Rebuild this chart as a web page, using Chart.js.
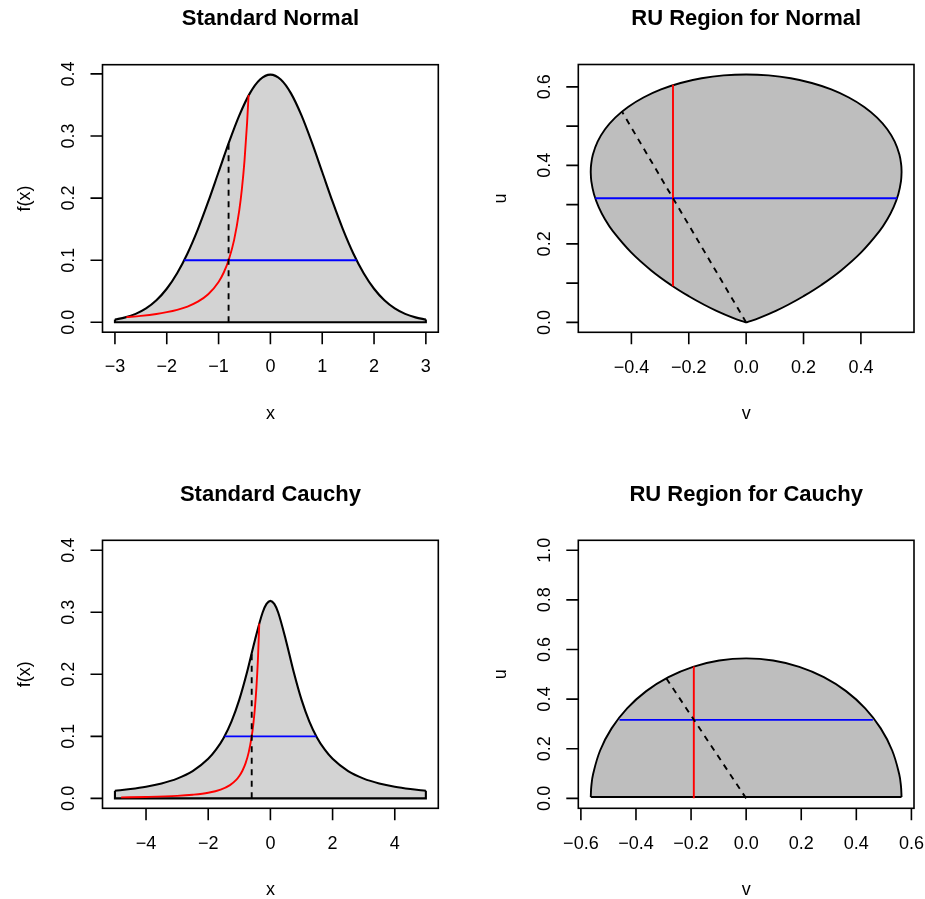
<!DOCTYPE html>
<html lang="en">
<head>
<meta charset="UTF-8">
<title>Ratio-of-uniforms regions</title>
<script src="https://cdn.jsdelivr.net/npm/chart.js"></script>
<style>
  html, body { margin: 0; padding: 0; background: #fff; }
  body { width: 925px; height: 899px; position: relative; overflow: hidden; }
  .panel { position: absolute; }
  .panel canvas { display: block; }
</style>
</head>
<body>
<div class="panel" style="left:0;top:0"><canvas id="normPdf" width="462" height="450"></canvas></div>
<div class="panel" style="left:462px;top:0"><canvas id="normRu" width="463" height="450"></canvas></div>
<div class="panel" style="left:0;top:450px"><canvas id="cauchyPdf" width="462" height="449"></canvas></div>
<div class="panel" style="left:462px;top:450px"><canvas id="cauchyRu" width="463" height="449"></canvas></div>

<script>
// --- standard normal density
const normX = [-3, -2.8, -2.6, -2.4, -2.2, -2, -1.8, -1.6, -1.4, -1.2, -1, -0.8, -0.6, -0.4, -0.2, 0,
  0.2, 0.4, 0.6, 0.8, 1, 1.2, 1.4, 1.6, 1.8, 2, 2.2, 2.4, 2.6, 2.8, 3];
const normY = [0.0044, 0.0079, 0.0136, 0.0224, 0.0355, 0.0540, 0.0790, 0.1109, 0.1497, 0.1942, 0.2420, 0.2897, 0.3332, 0.3683, 0.3910, 0.3989,
  0.3910, 0.3683, 0.3332, 0.2897, 0.2420, 0.1942, 0.1497, 0.1109, 0.0790, 0.0540, 0.0355, 0.0224, 0.0136, 0.0079, 0.0044];
const normBaseX = [-3, -3, 3, 3];
const normBaseY = [0.0044, 0, 0, 0.0044];
const normRedX = [-2.78, -2.5, -2.2, -2, -1.8, -1.6, -1.4, -1.2, -1, -0.9, -0.8, -0.7, -0.6, -0.55, -0.5, -0.45, -0.421];
const normRedY = [0.0084, 0.0104, 0.0134, 0.0163, 0.0201, 0.0254, 0.0332, 0.0451, 0.065, 0.0802, 0.1016, 0.1327, 0.1806, 0.2149, 0.26, 0.321, 0.366];
const normBlueX = [-1.664, 1.664];
const normBlueY = [0.1, 0.1];
const normCutX = [-0.807, -0.807];
const normCutY = [0, 0.288];

// --- RU region for the normal (top-right panel), upper and lower edge
const ruNormTopV = [-0.5418, -0.5406, -0.5342, -0.5178, -0.4919, -0.4564, -0.4116, -0.3580, -0.2967, -0.2287, -0.1554, -0.0786, 0,
  0.0786, 0.1554, 0.2287, 0.2967, 0.3580, 0.4116, 0.4564, 0.4919, 0.5178, 0.5342, 0.5406, 0.5418];
const ruNormTopU = [0.3831, 0.4005, 0.4274, 0.4603, 0.4919, 0.5216, 0.5487, 0.5728, 0.5934, 0.6098, 0.6218, 0.6291, 0.6316,
  0.6291, 0.6218, 0.6098, 0.5934, 0.5728, 0.5487, 0.5216, 0.4919, 0.4603, 0.4274, 0.4005, 0.3831];
const ruNormBotV = [-0.5418, -0.5398, -0.5304, -0.5140, -0.4917, -0.4647, -0.4009, -0.3310, -0.2622, -0.1997, -0.1464, -0.1034, -0.0463, -0.0061, 0,
  0.0061, 0.0463, 0.1034, 0.1464, 0.1997, 0.2622, 0.3310, 0.4009, 0.4647, 0.4917, 0.5140, 0.5304, 0.5398, 0.5418];
const ruNormBotU = [0.3831, 0.3599, 0.3264, 0.2937, 0.2623, 0.2323, 0.1782, 0.1324, 0.0954, 0.0666, 0.0450, 0.0295, 0.0116, 0.0012, 0,
  0.0012, 0.0116, 0.0295, 0.0450, 0.0666, 0.0954, 0.1324, 0.1782, 0.2323, 0.2623, 0.2937, 0.3264, 0.3599, 0.3831];
const ruNormRedV = [-0.255, -0.255];
const ruNormRedU = [0.092, 0.605];
const ruNormBlueV = [-0.526, 0.526];
const ruNormBlueU = [0.3162, 0.3162];
const ruNormCutV = [0, -0.433];
const ruNormCutU = [0, 0.537];

// --- standard Cauchy density (bottom-left panel)
const cauchyX = [-5, -4.5, -4, -3.5, -3, -2.5, -2, -1.75, -1.5, -1.25, -1, -0.75, -0.5, -0.25, -0.125, 0,
  0.125, 0.25, 0.5, 0.75, 1, 1.25, 1.5, 1.75, 2, 2.5, 3, 3.5, 4, 4.5, 5];
const cauchyY = [0.0122, 0.0150, 0.0187, 0.0240, 0.0318, 0.0439, 0.0637, 0.0784, 0.0979, 0.1242, 0.1592, 0.2037, 0.2546, 0.2996, 0.3134, 0.3183,
  0.3134, 0.2996, 0.2546, 0.2037, 0.1592, 0.1242, 0.0979, 0.0784, 0.0637, 0.0439, 0.0318, 0.0240, 0.0187, 0.0150, 0.0122];
const cauchyBaseX = [-5, -5, 5, 5];
const cauchyBaseY = [0.0122, 0, 0, 0.0122];
const cauchyRedX = [-4.8, -4, -3, -2.5, -2, -1.6, -1.3, -1.1, -1, -0.9, -0.8, -0.7, -0.6, -0.55, -0.5, -0.45, -0.4, -0.358];
const cauchyRedY = [0.0016, 0.0023, 0.0040, 0.0058, 0.0090, 0.0141, 0.0214, 0.0298, 0.0361, 0.0446, 0.0564, 0.0737, 0.1003, 0.1193, 0.1444, 0.1783, 0.2256, 0.2817];
const cauchyBlueX = [-1.475, 1.475];
const cauchyBlueY = [0.1, 0.1];
const cauchyCutX = [-0.601, -0.601];
const cauchyCutY = [0, 0.234];

// --- RU region for the Cauchy (bottom-right panel): half disc
const ruCauchyV = [-0.5642, -0.5621, -0.5556, -0.5302, -0.4886, -0.4322, -0.3627, -0.2821, -0.1930, -0.0980, 0,
  0.0980, 0.1930, 0.2821, 0.3627, 0.4322, 0.4886, 0.5302, 0.5556, 0.5621, 0.5642];
const ruCauchyU = [0.0056, 0.0492, 0.0980, 0.1930, 0.2821, 0.3627, 0.4322, 0.4886, 0.5302, 0.5556, 0.5642,
  0.5556, 0.5302, 0.4886, 0.4322, 0.3627, 0.2821, 0.1930, 0.0980, 0.0492, 0.0056];
const ruCauchyBaseV = [-0.5642, 0.5642];
const ruCauchyBaseU = [0.0056, 0.0056];
const ruCauchyRedV = [-0.19, -0.19];
const ruCauchyRedU = [0, 0.531];
const ruCauchyBlueV = [-0.46, 0.46];
const ruCauchyBlueU = [0.3162, 0.3162];
const ruCauchyCutV = [0, -0.29];
const ruCauchyCutU = [0, 0.484];

// --- ticks
const normXTicks = [-3, -2, -1, 0, 1, 2, 3];
const normXLabels = ['−3', '−2', '−1', '0', '1', '2', '3'];
const pdfYTicks = [0, 0.1, 0.2, 0.3, 0.4];
const pdfYLabels = ['0.0', '0.1', '0.2', '0.3', '0.4'];
const ruNormXTicks = [-0.4, -0.2, 0, 0.2, 0.4];
const ruNormXLabels = ['−0.4', '−0.2', '0.0', '0.2', '0.4'];
const ruNormYTicks = [0, 0.1, 0.2, 0.3, 0.4, 0.5, 0.6];
const ruNormYLabels = ['0.0', '', '0.2', '', '0.4', '', '0.6'];
const cauchyXTicks = [-4, -2, 0, 2, 4];
const cauchyXLabels = ['−4', '−2', '0', '2', '4'];
const ruCauchyXTicks = [-0.6, -0.4, -0.2, 0, 0.2, 0.4, 0.6];
const ruCauchyXLabels = ['−0.6', '−0.4', '−0.2', '0.0', '0.2', '0.4', '0.6'];
const ruCauchyYTicks = [0, 0.2, 0.4, 0.6, 0.8, 1.0];
const ruCauchyYLabels = ['0.0', '0.2', '0.4', '0.6', '0.8', '1.0'];

const FONT = '"Liberation Sans", Arial, Helvetica, sans-serif';
const LIGHT = '#d3d3d3', GRAY = '#bebebe';

const pts = (xs, ys) => xs.map((v, i) => ({ x: v, y: ys[i] }));

function line(xs, ys, color, width, extra) {
  return Object.assign({
    data: pts(xs, ys), borderColor: color, borderWidth: width,
    pointRadius: 0, fill: false, tension: 0
  }, extra || {});
}

const dashed = (xs, ys) => line(xs, ys, '#000', 1.9, { borderDash: [6, 5.5] });

// base-R style box, ticks, labels and titles, drawn from the chart's scales
function rFrame(spec) {
  return {
    id: 'rframe',
    afterDraw(chart) {
      const { ctx, chartArea: a, scales: { x, y } } = chart;
      ctx.save();
      ctx.strokeStyle = '#000';
      ctx.fillStyle = '#000';
      ctx.lineWidth = 1.6;
      ctx.strokeRect(a.left, a.top, a.right - a.left, a.bottom - a.top);

      ctx.beginPath();
      spec.xTicks.forEach(v => {
        const px = x.getPixelForValue(v);
        ctx.moveTo(px, a.bottom);
        ctx.lineTo(px, a.bottom + 12);
      });
      spec.yTicks.forEach(v => {
        const py = y.getPixelForValue(v);
        ctx.moveTo(a.left, py);
        ctx.lineTo(a.left - 12, py);
      });
      ctx.stroke();

      ctx.font = '18px ' + FONT;
      ctx.textAlign = 'center';
      ctx.textBaseline = 'middle';
      spec.xTicks.forEach((v, i) => {
        ctx.fillText(spec.xLabels[i], x.getPixelForValue(v), a.bottom + 35.3);
      });
      spec.yTicks.forEach((v, i) => {
        if (!spec.yLabels[i]) return;
        ctx.save();
        ctx.translate(a.left - 33, y.getPixelForValue(v));
        ctx.rotate(-Math.PI / 2);
        ctx.fillText(spec.yLabels[i], 0, 0);
        ctx.restore();
      });

      const cx = (a.left + a.right) / 2;
      const cy = (a.top + a.bottom) / 2;
      ctx.textBaseline = 'alphabetic';
      ctx.fillText(spec.xTitle, cx, a.bottom + 87);
      ctx.save();
      ctx.translate(a.left - 72.5, cy);
      ctx.rotate(-Math.PI / 2);
      ctx.fillText(spec.yTitle, 0, 0);
      ctx.restore();

      ctx.font = 'bold 22px ' + FONT;
      ctx.textBaseline = 'middle';
      ctx.fillText(spec.title, cx, a.top - 45.5);
      ctx.restore();
    }
  };
}

function makeChart(id, pad, xr, yr, datasets, spec) {
  return new Chart(document.getElementById(id), {
    type: 'line',
    data: { datasets },
    options: {
      responsive: false,
      animation: false,
      events: [],
      layout: { padding: pad },
      scales: {
        x: { type: 'linear', min: xr[0], max: xr[1], display: false },
        y: { type: 'linear', min: yr[0], max: yr[1], display: false }
      },
      plugins: {
        legend: { display: false },
        tooltip: { enabled: false },
        filler: { drawTime: 'beforeDatasetsDraw' }
      },
      elements: { point: { radius: 0 } }
    },
    plugins: [rFrame(spec)]
  });
}

// datasets drawn last-to-first, so the marks sit on top of the shapes
makeChart('normPdf', { left: 102.5, right: 23.7, top: 64.7, bottom: 117.8 },
  [-3.24, 3.24], [-0.01596, 0.41485],
  [
    dashed(normCutX, normCutY),
    line(normRedX, normRedY, '#ff0000', 1.9, { cubicInterpolationMode: 'monotone' }),
    line(normBlueX, normBlueY, '#0000ff', 1.9),
    line(normX, normY, '#000', 2.1, { cubicInterpolationMode: 'monotone', fill: { value: 0 }, backgroundColor: LIGHT }),
    line(normBaseX, normBaseY, '#000', 2.1)
  ],
  { xTicks: normXTicks, xLabels: normXLabels, yTicks: pdfYTicks, yLabels: pdfYLabels,
    title: 'Standard Normal', xTitle: 'x', yTitle: 'f(x)' });

makeChart('normRu', { left: 116.3, right: 11, top: 64.5, bottom: 117.7 },
  [-0.5851, 0.5851], [-0.02526, 0.6569],
  [
    dashed(ruNormCutV, ruNormCutU),
    line(ruNormRedV, ruNormRedU, '#ff0000', 1.9),
    line(ruNormBlueV, ruNormBlueU, '#0000ff', 1.9),
    line(ruNormTopV, ruNormTopU, '#000', 1.9, { tension: 0.4, fill: '+1', backgroundColor: GRAY }),
    line(ruNormBotV, ruNormBotU, '#000', 1.9, { tension: 0.4 })
  ],
  { xTicks: ruNormXTicks, xLabels: ruNormXLabels, yTicks: ruNormYTicks, yLabels: ruNormYLabels,
    title: 'RU Region for Normal', xTitle: 'v', yTitle: 'u' });

makeChart('cauchyPdf', { left: 102.5, right: 23.7, top: 90.3, bottom: 90.7 },
  [-5.4, 5.4], [-0.016, 0.416],
  [
    dashed(cauchyCutX, cauchyCutY),
    line(cauchyRedX, cauchyRedY, '#ff0000', 1.9, { cubicInterpolationMode: 'monotone' }),
    line(cauchyBlueX, cauchyBlueY, '#0000ff', 1.9),
    line(cauchyX, cauchyY, '#000', 2.1, { cubicInterpolationMode: 'monotone', fill: { value: 0 }, backgroundColor: LIGHT }),
    line(cauchyBaseX, cauchyBaseY, '#000', 2.1)
  ],
  { xTicks: cauchyXTicks, xLabels: cauchyXLabels, yTicks: pdfYTicks, yLabels: pdfYLabels,
    title: 'Standard Cauchy', xTitle: 'x', yTitle: 'f(x)' });

makeChart('cauchyRu', { left: 116.3, right: 11, top: 90.3, bottom: 90.7 },
  [-0.6094, 0.6094], [-0.04, 1.04],
  [
    dashed(ruCauchyCutV, ruCauchyCutU),
    line(ruCauchyRedV, ruCauchyRedU, '#ff0000', 1.9),
    line(ruCauchyBlueV, ruCauchyBlueU, '#0000ff', 1.9),
    line(ruCauchyV, ruCauchyU, '#000', 1.9, { tension: 0.4, fill: '+1', backgroundColor: GRAY }),
    line(ruCauchyBaseV, ruCauchyBaseU, '#000', 1.9)
  ],
  { xTicks: ruCauchyXTicks, xLabels: ruCauchyXLabels, yTicks: ruCauchyYTicks, yLabels: ruCauchyYLabels,
    title: 'RU Region for Cauchy', xTitle: 'v', yTitle: 'u' });
</script>
</body>
</html>
